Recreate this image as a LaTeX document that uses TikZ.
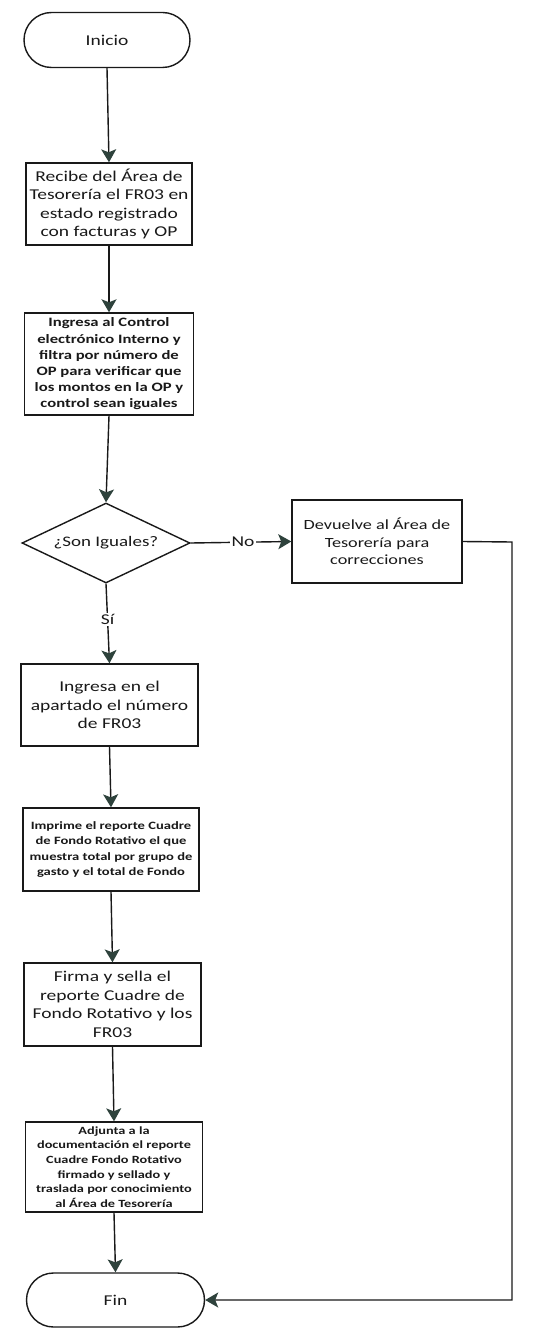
\documentclass[tikz,border=0pt]{standalone}
\usepackage{fontspec}
\setmainfont{Carlito}[FakeStretch=1.3]
\usetikzlibrary{arrows.meta,shapes.misc,shapes.geometric}
\definecolor{tipc}{RGB}{46,66,60}
\definecolor{inkc}{RGB}{25,25,25}
\begin{document}
\begin{tikzpicture}[x=1pt,y=-1pt,
  every node/.style={text=inkc, inner sep=0pt, align=center},
  terminal/.style={draw=inkc, line width=1.4pt, shape=rounded rectangle,
    rounded rectangle arc length=180, minimum height=55, minimum width=166,
    font=\fontsize{15}{18}\selectfont},
  procbox/.style={draw=inkc, line width=1.4pt, rectangle, minimum width=172,
    minimum height=83},
  bigtxt/.style={font=\fontsize{15}{18.5}\selectfont},
  midtxt/.style={font=\fontsize{14}{17.5}\selectfont},
  boldtxt/.style={font=\bfseries\fontsize{12.8}{16.2}\selectfont},
  smalltxt/.style={font=\bfseries\fontsize{11.2}{15.6}\selectfont},
  tinytxt/.style={font=\bfseries\fontsize{11}{14.6}\selectfont},
  decision/.style={draw=inkc, line width=1.4pt, diamond, aspect=2.1,
    minimum width=168, minimum height=80, font=\fontsize{14.6}{18}\selectfont},
  flow/.style={draw=inkc, line width=1.4pt,
    -{Stealth[length=13pt,width=15pt,inset=3pt,color=tipc]}},
  lbl/.style={fill=white, inner sep=1.5pt, font=\fontsize{15}{18}\selectfont}
]
\fill[white] (0,0) rectangle (540,1332);
\useasboundingbox (0,0) rectangle (540,1332);

% column of steps
\node[terminal] (ini) at (107,40) {Inicio};
\node[procbox, bigtxt, minimum width=166, minimum height=82] (rec) at (109,204)
  {Recibe del Área de\\Tesorería el FR03 en\\estado registrado\\con facturas y OP};
\node[procbox, boldtxt, minimum width=169, minimum height=102] (ctl) at (109,364)
  {Ingresa al Control\\electrónico Interno y\\filtra por número de\\OP para verificar que\\los montos en la OP y\\control sean iguales};
\node[decision] (dec) at (106,543) {¿Son Iguales?};
\node[procbox, midtxt, minimum width=170, minimum height=83] (dev) at (377,541.5)
  {Devuelve al Área de\\Tesorería para\\correcciones};
\node[procbox, bigtxt, minimum width=177, minimum height=82] (num) at (109.5,705)
  {Ingresa en el\\apartado el número\\de FR03};
\node[procbox, smalltxt, minimum width=176, minimum height=83] (imp) at (111,849.5)
  {Imprime el reporte Cuadre\\de Fondo Rotativo el que\\muestra total por grupo de\\gasto y el total de Fondo};
\node[procbox, bigtxt, minimum width=177, minimum height=83] (fir) at (112.5,1004.5)
  {Firma y sella el\\reporte Cuadre de\\Fondo Rotativo y los\\FR03};
\node[procbox, tinytxt, minimum width=177, minimum height=90] (adj) at (114,1167)
  {Adjunta a la\\documentación el reporte\\Cuadre Fondo Rotativo\\firmado y sellado y\\traslada por conocimiento\\al Área de Tesorería};
\node[terminal, minimum width=178, minimum height=54] (fin) at (115.5,1300) {Fin};

% return path corner
\coordinate (rc) at (512,542);

% connectors
\draw[flow] (ini.south) -- (rec.north);
\draw[flow] (rec.south) -- (ctl.north);
\draw[flow] (ctl.south) -- (dec.north);
\draw[flow] (dec.east) -- node[lbl, pos=0.52] {No} (dev.west);
\draw[flow] (dec.south) -- node[lbl, pos=0.45] {Sí} (num.north);
\draw[flow] (num.south) -- (imp.north);
\draw[flow] (imp.south) -- (fir.north);
\draw[flow] (fir.south) -- (adj.north);
\draw[flow] (adj.south) -- (fin.north);
\draw[flow] (dev.east) -- (rc) |- (fin.east);
\end{tikzpicture}
\end{document}
